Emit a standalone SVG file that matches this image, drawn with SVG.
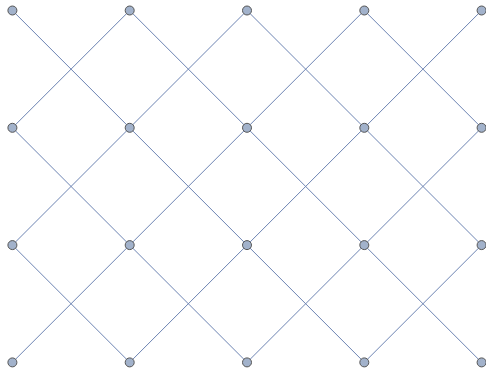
<svg xmlns="http://www.w3.org/2000/svg" width="486" height="370" viewBox="0 0 486 370">
<style>
.e{stroke:#6d84b3;stroke-width:1;fill:none}
.n{fill:#a2b2cb;stroke:#555555;stroke-width:1}
</style>
<rect width="486" height="370" fill="#ffffff"/>
<g id="edges">
<line class="e" x1="12.4" y1="10.5" x2="129.7" y2="127.8"/>
<line class="e" x1="129.7" y1="10.5" x2="12.4" y2="127.8"/>
<line class="e" x1="129.7" y1="10.5" x2="247" y2="127.8"/>
<line class="e" x1="247" y1="10.5" x2="129.7" y2="127.8"/>
<line class="e" x1="247" y1="10.5" x2="364.3" y2="127.8"/>
<line class="e" x1="364.3" y1="10.5" x2="247" y2="127.8"/>
<line class="e" x1="364.3" y1="10.5" x2="481.6" y2="127.8"/>
<line class="e" x1="481.6" y1="10.5" x2="364.3" y2="127.8"/>
<line class="e" x1="12.4" y1="127.8" x2="129.7" y2="245.1"/>
<line class="e" x1="129.7" y1="127.8" x2="12.4" y2="245.1"/>
<line class="e" x1="129.7" y1="127.8" x2="247" y2="245.1"/>
<line class="e" x1="247" y1="127.8" x2="129.7" y2="245.1"/>
<line class="e" x1="247" y1="127.8" x2="364.3" y2="245.1"/>
<line class="e" x1="364.3" y1="127.8" x2="247" y2="245.1"/>
<line class="e" x1="364.3" y1="127.8" x2="481.6" y2="245.1"/>
<line class="e" x1="481.6" y1="127.8" x2="364.3" y2="245.1"/>
<line class="e" x1="12.4" y1="245.1" x2="129.7" y2="362.4"/>
<line class="e" x1="129.7" y1="245.1" x2="12.4" y2="362.4"/>
<line class="e" x1="129.7" y1="245.1" x2="247" y2="362.4"/>
<line class="e" x1="247" y1="245.1" x2="129.7" y2="362.4"/>
<line class="e" x1="247" y1="245.1" x2="364.3" y2="362.4"/>
<line class="e" x1="364.3" y1="245.1" x2="247" y2="362.4"/>
<line class="e" x1="364.3" y1="245.1" x2="481.6" y2="362.4"/>
<line class="e" x1="481.6" y1="245.1" x2="364.3" y2="362.4"/>
</g>
<g id="n00"><circle class="n" cx="12.4" cy="10.5" r="4.5"/></g>
<g id="n01"><circle class="n" cx="129.7" cy="10.5" r="4.5"/></g>
<g id="n02"><circle class="n" cx="247" cy="10.5" r="4.5"/></g>
<g id="n03"><circle class="n" cx="364.3" cy="10.5" r="4.5"/></g>
<g id="n04"><circle class="n" cx="481.6" cy="10.5" r="4.5"/></g>
<g id="n10"><circle class="n" cx="12.4" cy="127.8" r="4.5"/></g>
<g id="n11"><circle class="n" cx="129.7" cy="127.8" r="4.5"/></g>
<g id="n12"><circle class="n" cx="247" cy="127.8" r="4.5"/></g>
<g id="n13"><circle class="n" cx="364.3" cy="127.8" r="4.5"/></g>
<g id="n14"><circle class="n" cx="481.6" cy="127.8" r="4.5"/></g>
<g id="n20"><circle class="n" cx="12.4" cy="245.1" r="4.5"/></g>
<g id="n21"><circle class="n" cx="129.7" cy="245.1" r="4.5"/></g>
<g id="n22"><circle class="n" cx="247" cy="245.1" r="4.5"/></g>
<g id="n23"><circle class="n" cx="364.3" cy="245.1" r="4.5"/></g>
<g id="n24"><circle class="n" cx="481.6" cy="245.1" r="4.5"/></g>
<g id="n30"><circle class="n" cx="12.4" cy="362.4" r="4.5"/></g>
<g id="n31"><circle class="n" cx="129.7" cy="362.4" r="4.5"/></g>
<g id="n32"><circle class="n" cx="247" cy="362.4" r="4.5"/></g>
<g id="n33"><circle class="n" cx="364.3" cy="362.4" r="4.5"/></g>
<g id="n34"><circle class="n" cx="481.6" cy="362.4" r="4.5"/></g>
</svg>
